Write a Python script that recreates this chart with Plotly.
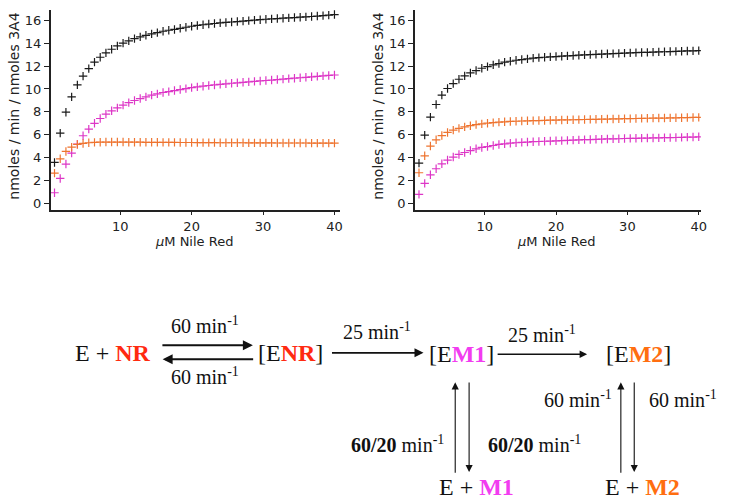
import plotly.graph_objects as go

W, H = 729, 503

# Nile Red concentration (uM), same for both panels
conc_uM = [0.8, 1.6, 2.4, 3.2, 4.0, 4.8, 5.6, 6.4, 7.2, 8.0,
           8.8, 9.6, 10.4, 11.2, 12.0, 12.8, 13.6, 14.4, 15.2, 16.0,
           16.8, 17.6, 18.4, 19.2, 20.0, 20.8, 21.6, 22.4, 23.2, 24.0,
           24.8, 25.6, 26.4, 27.2, 28.0, 28.8, 29.6, 30.4, 31.2, 32.0,
           32.8, 33.6, 34.4, 35.2, 36.0, 36.8, 37.6, 38.4, 39.2, 40.0]

# left panel (rates, nmoles/min/nmoles 3A4)
left_total = [3.58, 6.14, 7.97, 9.31, 10.36, 11.12, 11.78, 12.34, 12.77, 13.15,
              13.47, 13.76, 14.0, 14.2, 14.4, 14.55, 14.69, 14.81, 14.92, 15.04,
              15.13, 15.2, 15.3, 15.39, 15.48, 15.55, 15.61, 15.67, 15.72, 15.77,
              15.81, 15.85, 15.89, 15.93, 15.97, 16.01, 16.05, 16.09, 16.12, 16.15,
              16.18, 16.21, 16.24, 16.27, 16.3, 16.33, 16.37, 16.41, 16.45, 16.5]
left_m1 = [0.93, 2.18, 3.44, 4.4, 5.18, 5.91, 6.49, 7.0, 7.42, 7.8,
           8.09, 8.35, 8.59, 8.81, 8.99, 9.16, 9.31, 9.46, 9.57, 9.69,
           9.77, 9.86, 9.95, 10.03, 10.12, 10.18, 10.24, 10.3, 10.35, 10.4,
           10.45, 10.5, 10.54, 10.58, 10.62, 10.66, 10.7, 10.74, 10.78, 10.82,
           10.86, 10.9, 10.94, 10.98, 11.02, 11.06, 11.1, 11.14, 11.18, 11.22]
left_m2 = [2.65, 3.9, 4.54, 4.92, 5.15, 5.24, 5.3, 5.33, 5.35, 5.36,
           5.36, 5.36, 5.36, 5.35, 5.35, 5.35, 5.34, 5.34, 5.34, 5.33,
           5.33, 5.33, 5.32, 5.32, 5.32, 5.31, 5.31, 5.31, 5.31, 5.3,
           5.3, 5.3, 5.3, 5.3, 5.29, 5.29, 5.29, 5.29, 5.29, 5.28,
           5.28, 5.28, 5.28, 5.28, 5.28, 5.27, 5.27, 5.27, 5.27, 5.27]

# right panel
right_total = [3.52, 5.97, 7.54, 8.64, 9.46, 10.04, 10.47, 10.85, 11.14, 11.4,
               11.61, 11.81, 11.95, 12.1, 12.22, 12.34, 12.42, 12.51, 12.57, 12.63,
               12.69, 12.74, 12.77, 12.8, 12.83, 12.86, 12.89, 12.92, 12.95, 12.98,
               13.0, 13.03, 13.05, 13.07, 13.09, 13.11, 13.13, 13.15, 13.17, 13.19,
               13.2, 13.22, 13.24, 13.25, 13.27, 13.28, 13.3, 13.32, 13.33, 13.35]
right_m1 = [0.79, 1.75, 2.5, 3.03, 3.46, 3.79, 4.05, 4.28, 4.45, 4.62,
            4.77, 4.89, 4.97, 5.06, 5.15, 5.21, 5.26, 5.3, 5.33, 5.36,
            5.39, 5.41, 5.43, 5.45, 5.47, 5.49, 5.51, 5.53, 5.55, 5.57,
            5.58, 5.6, 5.61, 5.63, 5.64, 5.65, 5.67, 5.68, 5.69, 5.7,
            5.71, 5.72, 5.73, 5.74, 5.75, 5.76, 5.77, 5.79, 5.8, 5.82]
right_m2 = [2.68, 4.16, 5.01, 5.56, 5.93, 6.2, 6.4, 6.56, 6.69, 6.79,
            6.88, 6.95, 7.01, 7.06, 7.1, 7.13, 7.16, 7.18, 7.2, 7.22,
            7.23, 7.24, 7.25, 7.27, 7.28, 7.29, 7.3, 7.31, 7.32, 7.33,
            7.34, 7.35, 7.36, 7.37, 7.38, 7.39, 7.4, 7.41, 7.42, 7.43,
            7.44, 7.45, 7.46, 7.46, 7.47, 7.48, 7.49, 7.5, 7.51, 7.52]

x_ticks = [10, 20, 30, 40]
y_ticks = [0, 2, 4, 6, 8, 10, 12, 14, 16]

BLACK = '#1a1a1a'
MAGENTA = '#dd36c6'
ORANGE = '#ee7430'
RED_TXT = '#ff2a10'
MAG_TXT = '#f23cf0'
ORA_TXT = '#ff6e10'


def px(x, y):
    # pixel position -> paper coords (margins are zero)
    return x / W, 1 - y / H


fig = go.Figure()

panels = [('x', 'y', left_total, left_m1, left_m2),
          ('x2', 'y2', right_total, right_m1, right_m2)]
for xa, ya, tot, m1, m2 in panels:
    for vals, col in [(tot, BLACK), (m1, MAGENTA), (m2, ORANGE)]:
        fig.add_trace(go.Scatter(
            x=conc_uM, y=vals, mode='markers', xaxis=xa, yaxis=ya,
            marker=dict(symbol='cross-thin', size=6, color=col,
                        line=dict(width=1.2, color=col)),
            showlegend=False))

ax_style = dict(showline=True, linecolor='#222', linewidth=1.5, showgrid=False,
                zeroline=False, ticks='outside', tickwidth=1.3,
                tickcolor='#222', tickfont=dict(family='DejaVu Sans', size=13, color='#222'))

y_dom = [1 - 210.7 / H, 1 - 10 / H]
fig.update_layout(
    width=W, height=H,
    margin=dict(l=0, r=0, t=0, b=0),
    plot_bgcolor='white', paper_bgcolor='white',
    showlegend=False,
    xaxis=dict(domain=[51 / W, 343 / W], range=[0.25, 40.8], tickvals=x_ticks,
               anchor='y', ticklen=3, **ax_style),
    yaxis=dict(domain=y_dom, range=[-0.6, 16.9], tickvals=y_ticks, anchor='x',
               ticklen=5, **ax_style),
    xaxis2=dict(domain=[418.3 / W, 706.7 / W], range=[0.22, 40.3], tickvals=x_ticks,
                anchor='y2', ticklen=3, **ax_style),
    yaxis2=dict(domain=y_dom, range=[-0.6, 16.9], tickvals=y_ticks, anchor='x2',
                ticklen=5, **ax_style),
)

# axis titles
for cx in (14, 381):
    x, y = px(cx, 106)
    fig.add_annotation(x=x, y=y, xref='paper', yref='paper', text='nmoles / min / nmoles 3A4',
                       textangle=-90, showarrow=False,
                       font=dict(family='DejaVu Sans', size=14, color='#222'),
                       xanchor='center', yanchor='middle')
for cx in (196, 561):
    x, y = px(cx, 242)
    fig.add_annotation(x=x, y=y, xref='paper', yref='paper', text='<i>μ</i>M Nile Red',
                       showarrow=False, font=dict(family='DejaVu Sans', size=13, color='#222'),
                       xanchor='center', yanchor='middle')

# reaction scheme
serif = 'Liberation Serif'


def colored(s, c):
    return f"<b><span style='color:{c}'>{s}</span></b>"


species = [
    ('E + ' + colored('NR', RED_TXT), 113.7, 354),
    ('[E' + colored('NR', RED_TXT) + ']', 292.5, 354),
    ('[E' + colored('M1', MAG_TXT) + ']', 465, 355),
    ('[E' + colored('M2', ORA_TXT) + ']', 643.3, 355),
    ('E + ' + colored('M1', MAG_TXT), 480.8, 488),
    ('E + ' + colored('M2', ORA_TXT), 647.5, 488),
]
for txt, cx, cy in species:
    x, y = px(cx, cy)
    fig.add_annotation(x=x, y=y, xref='paper', yref='paper', text=txt, showarrow=False,
                       font=dict(family=serif, size=24, color='#111'),
                       xanchor='center', yanchor='middle')

rate = 'min<sup>-1</sup>'
rates = [
    ('60 ' + rate, 206.7, 326),
    ('60 ' + rate, 206.7, 377),
    ('25 ' + rate, 380, 332),
    ('25 ' + rate, 546.7, 335),
    ('60 ' + rate, 583.3, 400),
    ('60 ' + rate, 688.3, 400),
    ('<b>60/20</b> ' + rate, 400.8, 445),
    ('<b>60/20</b> ' + rate, 539, 445),
]
for txt, cx, cy in rates:
    x, y = px(cx, cy)
    fig.add_annotation(x=x, y=y, xref='paper', yref='paper', text=txt, showarrow=False,
                       font=dict(family=serif, size=20, color='#111'),
                       xanchor='center', yanchor='middle')

# arrows: (head x, head y, tail x, tail y, width)
arrows = [
    (255, 346, 163, 346, 2.0),
    (164, 360, 256, 360, 2.0),
    (427, 353.5, 334, 353.5, 1.8),
    (592, 355, 501, 355, 1.5),
    (459, 383, 459, 475, 1.1),
    (473, 473, 473, 382, 1.1),
    (626, 383, 626, 475, 1.1),
    (639.5, 473, 639.5, 382, 1.1),
]
for hx, hy, tx, ty, w in arrows:
    x, y = px(hx, hy)
    fig.add_annotation(x=x, y=y, xref='paper', yref='paper', text='',
                       showarrow=True, arrowhead=2, arrowsize=1.3 if w < 1.5 else 1.0,
                       arrowwidth=w, arrowcolor='#111', ax=tx - hx, ay=ty - hy,
                       standoff=0, startstandoff=0)

# drop the default page margin so the figure sits at the window's corner
fig.write_html("out.html", config={'displayModeBar': False},
               post_script="document.body.style.margin='0';")
